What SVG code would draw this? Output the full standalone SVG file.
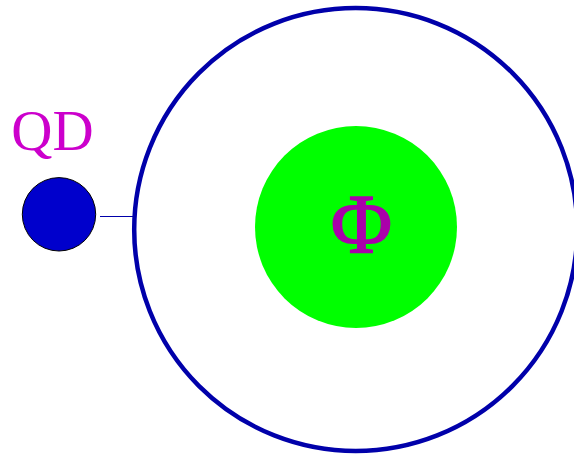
<svg xmlns="http://www.w3.org/2000/svg" width="574" height="456" viewBox="0 0 574 456">
<style>
.lbl{font-family:"Liberation Serif","Times New Roman",serif;}
</style>
<rect width="574" height="456" fill="#ffffff"/>
<g id="connectors">
<line x1="100" y1="216.5" x2="134" y2="216.5" stroke="#0000aa" stroke-width="1.2"/>
</g>
<g id="ring">
<circle cx="355.7" cy="229.5" r="221.5" fill="none" stroke="#0000aa" stroke-width="4.5"/>
</g>
<g id="core">
<circle cx="356" cy="227" r="101" fill="#00ff00"/>
<text class="lbl" x="361.5" y="253" font-size="84" fill="#aa00aa" stroke="#aa00aa" stroke-width="1.5" text-anchor="middle">Φ</text>
</g>
<g id="qd">
<circle cx="59" cy="214.3" r="36.7" fill="#0000cc" stroke="#000000" stroke-width="1"/>
<text class="lbl" x="52.5" y="149.5" font-size="57" fill="#cc00cc" text-anchor="middle">QD</text>
</g>
</svg>
